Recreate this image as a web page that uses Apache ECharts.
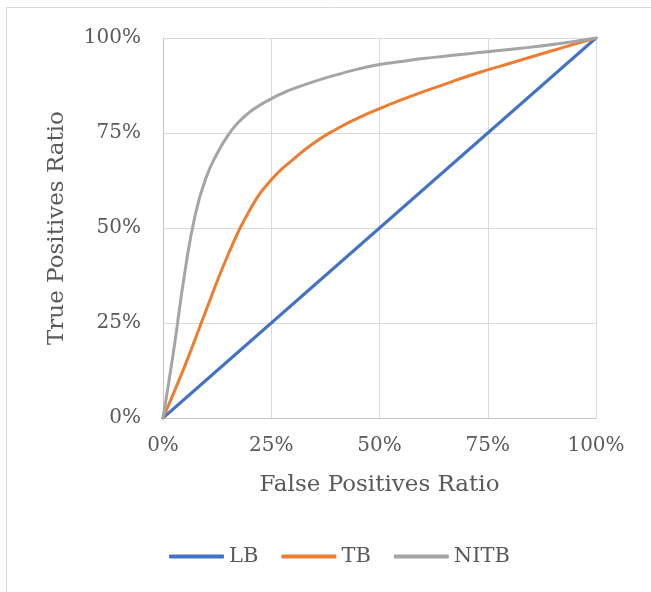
<!DOCTYPE html>
<html>
<head>
<meta charset="utf-8">
<style>
  html, body { margin: 0; padding: 0; background: #fff; }
  #chart { width: 651px; height: 592px; }
</style>
<script src="https://cdn.jsdelivr.net/npm/echarts@6/dist/echarts.min.js"></script>
</head>
<body>
<div id="chart"></div>
<script>
// Axis ticks (fractions shown as percentages)
const tickValues = [0, 0.25, 0.5, 0.75, 1];

// Series names
const seriesNames = ['LB', 'TB', 'NITB'];

// LB: false positive ratio / true positive ratio
const lbFpr = [0, 1];
const lbTpr = [0, 1];

// TB
const tbFpr = [0, 0.05, 0.1, 0.15, 0.2, 0.25, 0.3, 0.35, 0.4, 0.45, 0.5, 0.55, 0.6, 0.65, 0.7, 0.75, 0.8, 0.85, 0.9, 0.95, 1];
const tbTpr = [0, 0.136, 0.285, 0.429, 0.547, 0.627, 0.68, 0.725, 0.76, 0.789, 0.814, 0.837, 0.858, 0.878, 0.898, 0.916, 0.933, 0.95, 0.967, 0.984, 1];

// NITB
const nitbFpr = [0, 0.025, 0.05, 0.075, 0.1, 0.125, 0.15, 0.175, 0.2, 0.225, 0.25, 0.275, 0.3, 0.35, 0.4, 0.45, 0.5, 0.55, 0.6, 0.65, 0.7, 0.75, 0.8, 0.85, 0.9, 0.95, 1];
const nitbTpr = [0, 0.18, 0.38, 0.538, 0.634, 0.696, 0.744, 0.779, 0.805, 0.824, 0.84, 0.854, 0.866, 0.886, 0.903, 0.918, 0.93, 0.938, 0.946, 0.952, 0.958, 0.964, 0.97, 0.976, 0.983, 0.991, 1];

const colors = ['#4472C4', '#ED7D31', '#A5A5A5'];
const FONT = 'DejaVu Serif';
const TEXT = '#595959';

function pairs(xs, ys) { return xs.map((x, i) => [x, ys[i]]); }
const pct = v => Math.round(v * 100) + '%';

const chart = echarts.init(document.getElementById('chart'), null, { renderer: 'canvas' });

const axisCommon = {
  type: 'value',
  min: tickValues[0],
  max: tickValues[tickValues.length - 1],
  interval: tickValues[1] - tickValues[0],
  axisLine: { show: true, lineStyle: { color: '#C8C8C8', width: 1 } },
  axisTick: { show: false },
  splitLine: { show: true, lineStyle: { color: '#D9D9D9', width: 1 } },
  axisLabel: { formatter: pct, color: TEXT, fontFamily: FONT, fontSize: 20 },
  nameLocation: 'middle',
  nameTextStyle: { color: TEXT, fontFamily: FONT, fontSize: 23 }
};

chart.setOption({
  animation: false,
  backgroundColor: '#fff',
  color: colors,
  graphic: [{
    type: 'rect',
    shape: { x: 6.5, y: 7.5, width: 720, height: 700 },
    style: { fill: 'none', stroke: '#D9D9D9', lineWidth: 1 },
    silent: true,
    z: -10
  }],
  grid: { left: 163, right: 55, top: 38, bottom: 174, containLabel: false },
  xAxis: Object.assign({}, axisCommon, {
    name: 'False Positives Ratio',
    nameGap: 56,
    axisLabel: Object.assign({}, axisCommon.axisLabel, { margin: 18 })
  }),
  yAxis: Object.assign({}, axisCommon, {
    name: 'True Positives Ratio',
    nameGap: 94,
    axisLabel: Object.assign({}, axisCommon.axisLabel, { margin: 22 })
  }),
  legend: {
    data: seriesNames,
    left: 164,
    top: 541,
    icon: 'roundRect',
    itemWidth: 55,
    itemHeight: 4,
    itemGap: 23,
    textStyle: { color: TEXT, fontFamily: FONT, fontSize: 21 }
  },
  series: [
    { name: seriesNames[0], data: pairs(lbFpr, lbTpr) },
    { name: seriesNames[1], data: pairs(tbFpr, tbTpr) },
    { name: seriesNames[2], data: pairs(nitbFpr, nitbTpr) }
  ].map((s, i) => Object.assign(s, {
    type: 'line',
    smooth: 0.5,
    showSymbol: false,
    symbol: 'none',
    lineStyle: { width: 3, color: colors[i], cap: 'round', join: 'round' },
    z: 2 + i
  }))
});
</script>
</body>
</html>
